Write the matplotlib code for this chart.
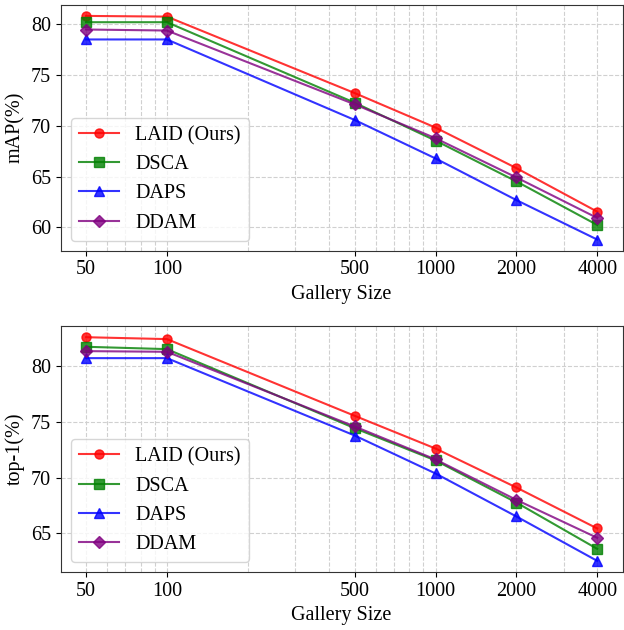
import numpy as np
from matplotlib import pyplot as plt
from matplotlib.ticker import FixedLocator, NullFormatter

plt.rcParams['font.family'] = 'serif'
plt.rcParams['font.serif'] = ['Liberation Serif', 'DejaVu Serif']
plt.rcParams['font.size'] = 14.5
plt.rcParams['mathtext.fontset'] = 'stix'

gallery = [50, 100, 500, 1000, 2000, 4000]
tick_labels = ['50', '100', '500', '1000', '2000', '4000']
methods = ['LAID (Ours)', 'DSCA', 'DAPS', 'DDAM']
colors = ['red', 'green', 'blue', 'purple']
markers = ['o', 's', '^', 'D']

map_laid = [80.82, 80.75, 73.22, 69.82, 65.83, 61.54]
map_dsca = [80.2, 80.2, 72.27, 68.54, 64.52, 60.23]
map_daps = [78.5, 78.5, 70.57, 66.78, 62.68, 58.79]
map_ddam = [79.48, 79.38, 72.11, 68.77, 64.91, 60.92]

top1_laid = [82.63, 82.46, 75.57, 72.63, 69.13, 65.45]
top1_dsca = [81.77, 81.56, 74.46, 71.56, 67.78, 63.62]
top1_daps = [80.75, 80.75, 73.8, 70.39, 66.53, 62.54]
top1_ddam = [81.38, 81.32, 74.61, 71.65, 68.02, 64.61]

map_all = [map_laid, map_dsca, map_daps, map_ddam]
top1_all = [top1_laid, top1_dsca, top1_daps, top1_ddam]

fig = plt.figure(figsize=(6.24, 6.3), dpi=100)
ax1 = fig.add_axes([0.097, 0.602, 0.901, 0.3905])
ax2 = fig.add_axes([0.097, 0.092, 0.901, 0.3905])


def draw(ax, series, ylabel, yticks):
    for vals, name, c, m in zip(series, methods, colors, markers):
        ax.plot(gallery, vals, color=c, marker=m, markersize=6.5,
                linewidth=1.5, alpha=0.8, label=name)
    ax.set_xscale('log')
    ax.xaxis.set_major_locator(FixedLocator(gallery))
    ax.set_xticklabels(tick_labels)
    ax.xaxis.set_minor_formatter(NullFormatter())
    ax.tick_params(axis='x', which='minor', length=0)
    ax.set_yticks(yticks)
    ax.grid(True, which='both', linestyle='--', color='#d0d0d0', linewidth=0.8)
    ax.set_axisbelow(True)
    for s in ax.spines.values():
        s.set_color('#333333')
    ax.set_xlabel('Gallery Size')
    ax.set_ylabel(ylabel)
    ax.legend(loc='lower left', fancybox=True, framealpha=0.8)


draw(ax1, map_all, 'mAP(%)', [60, 65, 70, 75, 80])
draw(ax2, top1_all, 'top-1(%)', [65, 70, 75, 80])

fig.savefig('out.png', dpi=100)
